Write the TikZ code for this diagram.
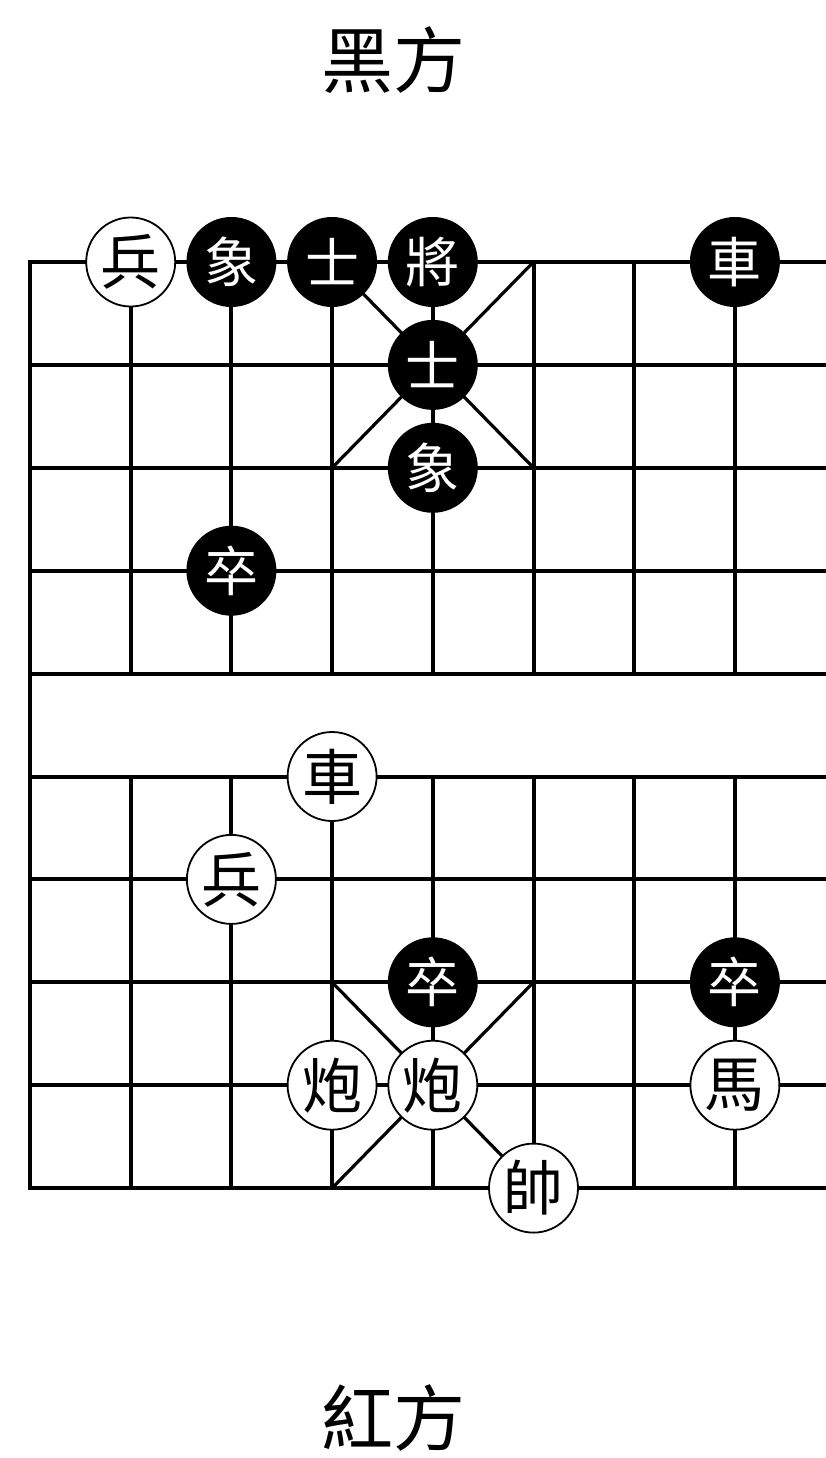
\documentclass[tikz,border=0pt]{standalone}
\usepackage{fontspec}
\newfontfamily\cjk{Noto Sans CJK TC}
\begin{document}
\begin{tikzpicture}[x=1pt,y=-1pt,
  grid/.style={line width=4pt, line cap=rect},
  diag/.style={line width=3.2pt},
  redpc/.style={circle, draw=black, line width=1.8pt, fill=white, minimum size=89pt, inner sep=0pt, font=\cjk\fontsize{60}{60}\selectfont, text=black},
  blkpc/.style={circle, fill=black, minimum size=90pt, inner sep=0pt, font=\cjk\fontsize{54}{54}\selectfont, text=white},
  side/.style={font=\cjk\fontsize{72}{72}\selectfont, inner sep=0pt}]
\clip (0,0) rectangle (826,1458);
\fill[white] (0,0) rectangle (826,1458);
\foreach \i in {0,...,8}{
  \foreach \j in {0,...,9}{
    \coordinate (p\i-\j) at ({30+100.7*\i},{262+102.9*\j});
  }
}
% horizontal lines
\foreach \j in {0,...,9}{ \draw[grid] (p0-\j) -- (p8-\j); }
% vertical lines
\draw[grid] (p0-0) -- (p0-9);
\draw[grid] (p8-0) -- (p8-9);
\foreach \i in {1,...,7}{
  \draw[grid] (p\i-0) -- (p\i-4);
  \draw[grid] (p\i-5) -- (p\i-9);
}
% palaces
\draw[diag] (p3-0) -- (p5-2);
\draw[diag] (p5-0) -- (p3-2);
\draw[diag] (p3-7) -- (p5-9);
\draw[diag] (p5-7) -- (p3-9);
% black pieces
\node[blkpc] (bx1) at (p2-0) {象};
\node[blkpc] (bs1) at (p3-0) {士};
\node[blkpc] (bj)  at (p4-0) {將};
\node[blkpc] (bc)  at (p7-0) {車};
\node[blkpc] (bs2) at (p4-1) {士};
\node[blkpc] (bx2) at (p4-2) {象};
\node[blkpc] (bz1) at (p2-3) {卒};
\node[blkpc] (bz2) at (p4-7) {卒};
\node[blkpc] (bz3) at (p7-7) {卒};
% red pieces
\node[redpc] (rb1) at (p1-0) {兵};
\node[redpc] (rc)  at (p3-5) {車};
\node[redpc] (rb2) at (p2-6) {兵};
\node[redpc] (rp1) at (p3-8) {炮};
\node[redpc] (rp2) at (p4-8) {炮};
\node[redpc] (rs)  at (p5-9) {帥};
\node[redpc] (rm)  at (p7-8) {馬};
% side labels
\node[side] (black) at (393,60) {黑方};
\node[side] (red) at (393,1418) {紅方};
\end{tikzpicture}
\end{document}
